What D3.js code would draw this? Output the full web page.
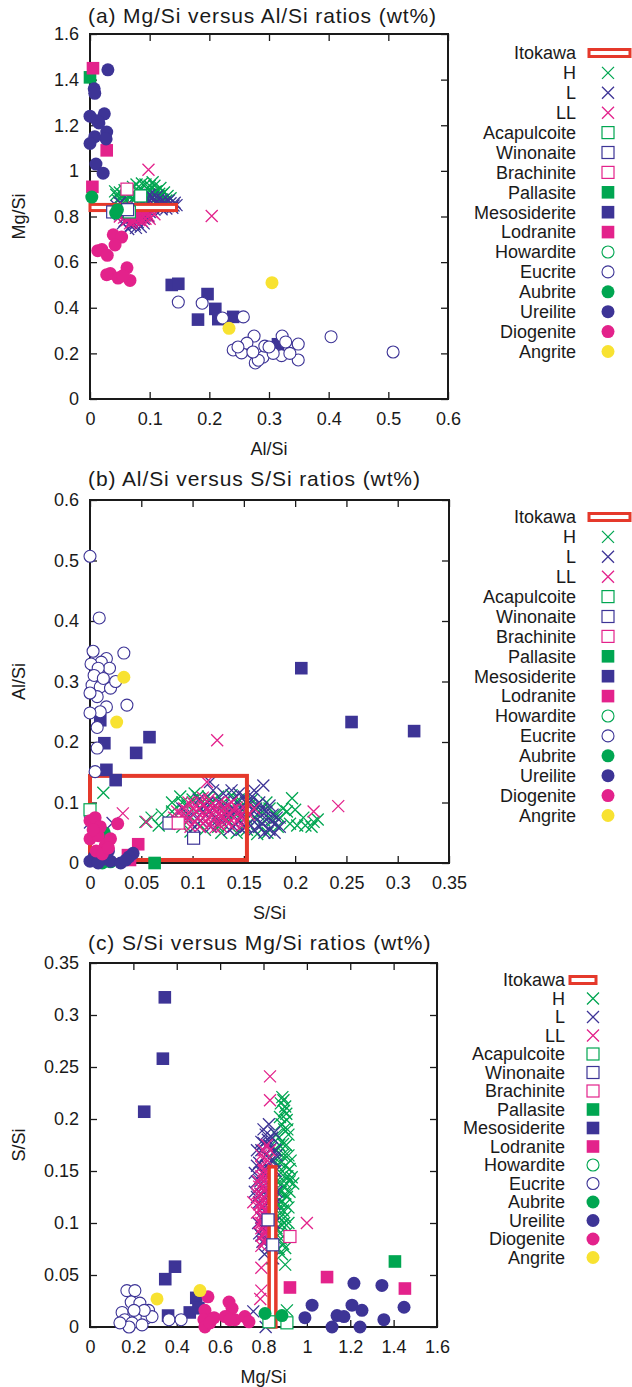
<!DOCTYPE html>
<html>
<head>
<meta charset="utf-8">
<script src="https://cdn.jsdelivr.net/npm/d3@7"></script>
<style>
  body { margin: 0; background: #fff; }
  svg text { font-family: "Liberation Sans", Arial, sans-serif; fill: #1a1a1a; }
</style>
</head>
<body>
<svg id="chart" width="632" height="1387"></svg>
<script>
// ---- categories (legend order) ----
const classes = ["H", "L", "LL", "Acapulcoite", "Winonaite", "Brachinite", "Pallasite",
  "Mesosiderite", "Lodranite", "Howardite", "Eucrite", "Aubrite", "Ureilite", "Diogenite", "Angrite"];
const legendNames = ["Itokawa"].concat(classes);

// ---- tick labels ----
const aXTicks = [0, 0.1, 0.2, 0.3, 0.4, 0.5, 0.6];
const aYTicks = [0, 0.2, 0.4, 0.6, 0.8, 1, 1.2, 1.4, 1.6];
const bXTicks = [0, 0.05, 0.1, 0.15, 0.2, 0.25, 0.3, 0.35];
const bYTicks = [0, 0.1, 0.2, 0.3, 0.4, 0.5, 0.6];
const cXTicks = [0, 0.2, 0.4, 0.6, 0.8, 1, 1.2, 1.4, 1.6];
const cYTicks = [0, 0.05, 0.1, 0.15, 0.2, 0.25, 0.3, 0.35];

// ---- Itokawa boxes [[x0,y0],[x1,y1]] ----
const itokawaA = [[0, 0.826], [0.145, 0.853]];
const itokawaB = [[0, 0.005], [0.153, 0.144]];
const itokawaC = [[0.826, 0], [0.857, 0.154]];

// ---- panel (a): [Al/Si, Mg/Si] ----
const a_H = [[0.087,0.945],[0.105,0.95],[0.1,0.935],[0.084,0.925],[0.112,0.91],[0.116,0.9],[0.042,0.91],[0.044,0.895],
  [0.049,0.88],[0.096,0.9],[0.075,0.885],[0.104,0.88],[0.092,0.87],[0.11,0.865],[0.06,0.87],[0.07,0.9],[0.12,0.875],
  [0.08,0.86],[0.128,0.87],[0.055,0.895],[0.098,0.915],[0.115,0.89],[0.065,0.86],[0.09,0.855],
  [0.05,0.905],[0.058,0.915],[0.066,0.92],[0.072,0.93],[0.078,0.94],[0.093,0.94],[0.108,0.935],[0.118,0.925],
  [0.124,0.905],[0.13,0.89],[0.122,0.86],[0.113,0.85],[0.102,0.86],[0.086,0.875],[0.078,0.895],[0.068,0.885],
  [0.058,0.875],[0.052,0.86],[0.062,0.905],[0.082,0.91],[0.094,0.885],[0.106,0.9],[0.12,0.895],[0.135,0.88],
  [0.047,0.87],[0.073,0.87],[0.099,0.87],[0.11,0.91],[0.088,0.9],[0.062,0.895]];
const a_L = [[0.1,0.87],[0.11,0.86],[0.12,0.85],[0.13,0.845],[0.14,0.848],[0.135,0.858],[0.125,0.862],[0.115,0.875],
  [0.105,0.885],[0.118,0.84],[0.095,0.855],[0.08,0.8],[0.07,0.78],[0.064,0.745],[0.085,0.755],[0.075,0.765],[0.09,0.79],
  [0.06,0.8],[0.05,0.81],[0.055,0.77],[0.1,0.82],[0.108,0.83],[0.088,0.835],[0.07,0.82],[0.045,0.845],[0.05,0.86],
  [0.132,0.87],[0.142,0.86],[0.145,0.85],[0.128,0.835],[0.138,0.838],[0.122,0.872],[0.112,0.888],[0.1,0.895],
  [0.094,0.87],[0.086,0.85],[0.078,0.84],[0.072,0.805],[0.066,0.79],[0.058,0.78],[0.068,0.76],[0.08,0.775],
  [0.092,0.805],[0.098,0.8],[0.106,0.845],[0.115,0.855],[0.12,0.832],[0.06,0.83],[0.052,0.835],[0.044,0.82],
  [0.077,0.75],[0.09,0.77],[0.083,0.82],[0.062,0.815]];
const a_LL = [[0.098,1.005],[0.204,0.802],[0.1,0.79],[0.06,0.82],[0.07,0.81],[0.075,0.8],[0.08,0.82],[0.085,0.81],
  [0.065,0.8],[0.09,0.8],[0.055,0.83],[0.072,0.825],[0.078,0.79],[0.088,0.83],[0.095,0.815],[0.062,0.785],[0.07,0.775],
  [0.082,0.785],[0.058,0.81],[0.068,0.835],[0.092,0.835],[0.05,0.8],
  [0.064,0.79],[0.066,0.83],[0.074,0.84],[0.076,0.815],[0.083,0.8],[0.086,0.795],[0.09,0.815],[0.094,0.825],
  [0.098,0.805],[0.104,0.82],[0.108,0.81],[0.068,0.795],[0.072,0.79],[0.079,0.805],[0.087,0.78],[0.093,0.79],
  [0.057,0.795],[0.053,0.815],[0.061,0.835],[0.08,0.83],[0.085,0.84],[0.075,0.78],[0.067,0.77]];
const a_Acapulcoite = [[0.085,0.89],[0.066,0.82]];
const a_Winonaite = [[0.038,0.82],[0.063,0.83]];
const a_Brachinite = [[0.062,0.92]];
const a_Pallasite = [[0.0,1.41]];
const a_Mesosiderite = [[0.137,0.5],[0.148,0.505],[0.197,0.46],[0.21,0.395],[0.181,0.348],[0.215,0.35],[0.24,0.36],[0.315,0.24]];
const a_Lodranite = [[0.005,1.45],[0.028,1.09],[0.004,0.93]];
const a_Howardite = [];
const a_Eucrite = [[0.148,0.425],[0.188,0.42],[0.222,0.355],[0.257,0.36],[0.275,0.276],[0.322,0.276],[0.328,0.25],
  [0.349,0.241],[0.404,0.273],[0.508,0.206],[0.349,0.171],[0.321,0.19],[0.29,0.184],[0.293,0.232],[0.24,0.215],
  [0.254,0.202],[0.277,0.158],[0.282,0.17],[0.263,0.245],[0.248,0.228],[0.307,0.2],[0.335,0.2],[0.273,0.206],[0.3,0.228]];
const a_Aubrite = [[0.003,0.885],[0.043,0.815],[0.046,0.83]];
const a_Ureilite = [[0.03,1.443],[0.007,1.36],[0.008,1.34],[0.0,1.24],[0.024,1.25],[0.015,1.21],[0.028,1.17],
  [0.008,1.15],[0.0,1.12],[0.027,1.14],[0.01,1.03],[0.022,0.99],[0.012,1.22]];
const a_Diogenite = [[0.039,0.72],[0.053,0.71],[0.02,0.655],[0.013,0.65],[0.029,0.63],[0.042,0.675],[0.034,0.55],
  [0.047,0.53],[0.067,0.52],[0.062,0.575],[0.028,0.545],[0.055,0.54]];
const a_Angrite = [[0.305,0.51],[0.233,0.31]];

// ---- panel (b): [S/Si, Al/Si] ----
const b_H = [[0.013,0.116],[0.197,0.107],[0.2,0.088],[0.218,0.068],[0.21,0.062],[0.202,0.062],[0.216,0.06],[0.222,0.072],
  [0.054,0.068],[0.067,0.062],[0.09,0.1],[0.1,0.105],[0.11,0.095],[0.12,0.08],[0.13,0.1],[0.14,0.09],[0.15,0.085],
  [0.16,0.075],[0.17,0.07],[0.18,0.08],[0.085,0.07],[0.095,0.08],[0.105,0.065],[0.125,0.06],[0.135,0.07],[0.145,0.105],
  [0.155,0.095],[0.165,0.06],[0.175,0.09],[0.115,0.11],[0.077,0.065],
  [0.06,0.075],[0.07,0.08],[0.08,0.085],[0.088,0.11],[0.095,0.095],[0.102,0.115],[0.108,0.09],[0.118,0.1],
  [0.125,0.11],[0.132,0.085],[0.138,0.112],[0.142,0.08],[0.148,0.095],[0.152,0.075],[0.158,0.105],[0.162,0.09],
  [0.168,0.085],[0.172,0.1],[0.178,0.07],[0.185,0.075],[0.188,0.09],[0.183,0.06],[0.173,0.05],[0.163,0.048],
  [0.153,0.055],[0.143,0.05],[0.128,0.05],[0.112,0.055],[0.098,0.052],[0.09,0.06],[0.192,0.085],[0.195,0.065],
  [0.208,0.075],[0.105,0.11],[0.08,0.1]];
const b_L = [[0.0,0.067],[0.022,0.066],[0.117,0.134],[0.169,0.128],[0.16,0.12],[0.15,0.11],[0.14,0.105],[0.13,0.095],
  [0.12,0.09],[0.11,0.085],[0.1,0.08],[0.135,0.075],[0.145,0.07],[0.155,0.065],[0.165,0.06],[0.175,0.055],[0.17,0.075],
  [0.18,0.065],[0.16,0.085],[0.15,0.09],[0.125,0.065],[0.14,0.06],[0.115,0.1],[0.09,0.09],[0.178,0.08],[0.165,0.1],
  [0.12,0.12],[0.13,0.115],[0.138,0.12],[0.145,0.115],[0.152,0.1],[0.158,0.11],[0.162,0.095],[0.168,0.09],
  [0.172,0.085],[0.176,0.07],[0.182,0.075],[0.185,0.06],[0.18,0.05],[0.17,0.05],[0.16,0.055],[0.152,0.06],
  [0.148,0.078],[0.142,0.085],[0.138,0.09],[0.132,0.08],[0.128,0.07],[0.122,0.075],[0.118,0.06],[0.108,0.07],
  [0.102,0.06],[0.095,0.075],[0.155,0.1],[0.163,0.072],[0.168,0.065],[0.175,0.095],[0.148,0.055],[0.136,0.055],
  [0.125,0.1],[0.112,0.095],[0.106,0.105]];
const b_LL = [[0.124,0.203],[0.114,0.134],[0.242,0.094],[0.218,0.085],[0.032,0.082],[0.055,0.068],[0.09,0.08],[0.095,0.07],
  [0.1,0.09],[0.105,0.075],[0.11,0.065],[0.115,0.085],[0.12,0.07],[0.125,0.08],[0.13,0.09],[0.135,0.065],[0.14,0.075],
  [0.145,0.085],[0.15,0.07],[0.108,0.1],[0.118,0.095],[0.128,0.06],[0.098,0.06],[0.138,0.1],[0.155,0.08],[0.16,0.09],
  [0.112,0.078],[0.122,0.088],[0.102,0.068],[0.132,0.072],
  [0.085,0.085],[0.088,0.065],[0.092,0.09],[0.096,0.1],[0.104,0.085],[0.107,0.06],[0.113,0.07],[0.116,0.105],
  [0.119,0.078],[0.124,0.092],[0.127,0.07],[0.131,0.083],[0.134,0.095],[0.137,0.08],[0.141,0.065],[0.143,0.092],
  [0.147,0.078],[0.152,0.088],[0.148,0.062],[0.126,0.1],[0.116,0.062],[0.106,0.09],[0.094,0.078],[0.082,0.075],
  [0.1,0.1],[0.11,0.108],[0.122,0.058],[0.139,0.088],[0.129,0.078],[0.115,0.09]];
const b_Acapulcoite = [[0.0,0.088],[0.004,0.062]];
const b_Winonaite = [[0.077,0.066],[0.101,0.041]];
const b_Brachinite = [[0.086,0.066]];
const b_Pallasite = [[0.063,0.0]];
const b_Mesosiderite = [[0.206,0.322],[0.255,0.233],[0.316,0.218],[0.058,0.208],[0.045,0.182],[0.014,0.198],
  [0.016,0.154],[0.025,0.137],[0.01,0.236]];
const b_Lodranite = [[0.047,0.031],[0.037,0.013],[0.039,0.005]];
const b_Howardite = [];
const b_Eucrite = [[0.0,0.507],[0.009,0.405],[0.003,0.35],[0.033,0.347],[0.016,0.338],[0.011,0.332],[0.001,0.329],
  [0.019,0.322],[0.008,0.322],[0.002,0.294],[0.01,0.291],[0.02,0.289],[0.007,0.275],[0.016,0.258],[0.036,0.261],
  [0.01,0.25],[0.007,0.224],[0.007,0.19],[0.005,0.151],[0.0,0.281],[0.0,0.248],[0.004,0.31],[0.013,0.305],[0.025,0.3]];
const b_Aubrite = [[0.014,0.05],[0.012,0.0],[0.02,0.002]];
const b_Ureilite = [[0.0,0.003],[0.004,0.01],[0.02,0.003],[0.042,0.016],[0.038,0.01],[0.012,0.006],[0.03,0.0],
  [0.008,0.0],[0.018,0.02],[0.035,0.005]];
const b_Diogenite = [[0.0,0.07],[0.005,0.075],[0.01,0.06],[0.0,0.04],[0.008,0.045],[0.015,0.03],[0.02,0.04],
  [0.006,0.02],[0.012,0.015],[0.003,0.055],[0.027,0.065],[0.018,0.025]];
const b_Angrite = [[0.033,0.307],[0.026,0.233]];

// ---- panel (c): [Mg/Si, S/Si] ----
const c_H = [[0.887,0.221],[0.9,0.212],[0.876,0.202],[0.907,0.199],[0.895,0.208],[0.88,0.215],[0.91,0.19],[0.87,0.182],
  [0.89,0.176],[0.86,0.17],[0.9,0.165],[0.875,0.158],[0.92,0.152],[0.93,0.144],[0.937,0.138],[0.88,0.148],[0.89,0.135],
  [0.908,0.125],[0.87,0.13],[0.9,0.118],[0.86,0.112],[0.9,0.106],[0.885,0.098],[0.89,0.08],[0.9,0.076],[0.875,0.09],
  [0.84,0.066],[0.908,0.016],[0.86,0.14],[0.85,0.16],[0.88,0.12],[0.86,0.185],
  [0.892,0.218],[0.905,0.205],[0.883,0.195],[0.915,0.185],[0.895,0.19],[0.872,0.175],[0.905,0.175],[0.915,0.165],
  [0.885,0.165],[0.925,0.16],[0.865,0.155],[0.9,0.155],[0.91,0.145],[0.875,0.14],[0.895,0.14],[0.92,0.13],
  [0.88,0.13],[0.9,0.128],[0.915,0.115],[0.87,0.118],[0.89,0.112],[0.895,0.1],[0.875,0.105],[0.905,0.09],
  [0.88,0.085],[0.86,0.095],[0.885,0.07],[0.9,0.06],[0.87,0.075],[0.915,0.1],[0.92,0.14],[0.86,0.125]];
const c_L = [[0.8,0.177],[0.76,0.148],[0.85,0.187],[0.82,0.18],[0.835,0.172],[0.81,0.165],[0.78,0.158],[0.845,0.16],
  [0.77,0.14],[0.8,0.135],[0.83,0.15],[0.79,0.128],[0.82,0.125],[0.84,0.14],[0.86,0.13],[0.78,0.12],[0.81,0.11],
  [0.85,0.118],[0.79,0.105],[0.83,0.1],[0.8,0.095],[0.84,0.09],[0.815,0.085],[0.79,0.088],[0.845,0.066],[0.753,0.015],
  [0.81,0.0],[0.855,0.15],[0.77,0.17],[0.825,0.195],
  [0.8,0.19],[0.81,0.185],[0.84,0.182],[0.825,0.175],[0.79,0.17],[0.815,0.155],[0.77,0.155],[0.795,0.148],
  [0.82,0.145],[0.835,0.135],[0.785,0.14],[0.805,0.13],[0.77,0.125],[0.825,0.12],[0.8,0.115],[0.84,0.11],
  [0.775,0.1],[0.81,0.1],[0.83,0.092],[0.795,0.082],[0.82,0.078],[0.805,0.07],[0.78,0.09],[0.85,0.1],
  [0.855,0.17],[0.76,0.13],[0.845,0.125],[0.835,0.16],[0.86,0.165],[0.79,0.178]];
const c_LL = [[0.83,0.241],[0.83,0.218],[1.0,0.1],[0.79,0.154],[0.753,0.12],[0.79,0.057],[0.79,0.035],[0.785,0.027],
  [0.8,0.17],[0.81,0.145],[0.78,0.135],[0.8,0.125],[0.82,0.14],[0.79,0.115],[0.81,0.12],[0.83,0.11],[0.8,0.105],
  [0.77,0.11],[0.82,0.1],[0.79,0.095],[0.81,0.09],[0.8,0.082],[0.84,0.12],[0.83,0.13],[0.78,0.1],[0.8,0.14],
  [0.82,0.16],[0.77,0.128],[0.81,0.132],[0.79,0.145],
  [0.805,0.16],[0.815,0.15],[0.825,0.145],[0.795,0.135],[0.785,0.128],[0.805,0.118],[0.815,0.112],[0.825,0.105],
  [0.795,0.11],[0.785,0.118],[0.805,0.098],[0.815,0.095],[0.825,0.088],[0.795,0.088],[0.8,0.09],[0.835,0.095],
  [0.79,0.1],[0.81,0.138],[0.82,0.128],[0.8,0.15],[0.79,0.165],[0.83,0.17],[0.815,0.175],[0.775,0.14],
  [0.78,0.118],[0.82,0.115],[0.8,0.108],[0.81,0.082],[0.79,0.078],[0.835,0.14]];
const c_Acapulcoite = [[0.825,0.005],[0.908,0.004]];
const c_Winonaite = [[0.821,0.103],[0.843,0.079]];
const c_Brachinite = [[0.922,0.087]];
const c_Pallasite = [[1.406,0.063]];
const c_Mesosiderite = [[0.345,0.317],[0.336,0.258],[0.25,0.207],[0.392,0.058],[0.347,0.046],[0.49,0.028],
  [0.46,0.014],[0.5,0.018],[0.36,0.011]];
const c_Lodranite = [[0.922,0.038],[1.093,0.048],[1.452,0.037]];
const c_Howardite = [];
const c_Eucrite = [[0.17,0.035],[0.207,0.035],[0.19,0.024],[0.23,0.023],[0.148,0.014],[0.27,0.016],[0.16,0.007],
  [0.217,0.007],[0.263,0.009],[0.194,0.004],[0.286,0.01],[0.24,0.002],[0.18,0.0],[0.364,0.007],[0.42,0.007],
  [0.138,0.004],[0.25,0.016],[0.203,0.016]];
const c_Aubrite = [[0.807,0.013],[0.885,0.011]];
const c_Ureilite = [[1.024,0.021],[0.991,0.009],[1.116,0.0],[1.139,0.011],[1.171,0.01],[1.217,0.042],[1.208,0.021],
  [1.254,0.016],[1.245,0.0],[1.346,0.04],[1.355,0.007],[1.448,0.019]];
const c_Diogenite = [[0.544,0.029],[0.53,0.016],[0.525,0.007],[0.572,0.009],[0.53,0.0],[0.641,0.024],[0.655,0.018],
  [0.623,0.01],[0.668,0.007],[0.714,0.01],[0.645,0.007],[0.733,0.005],[0.553,0.004]];
const c_Angrite = [[0.309,0.027],[0.507,0.035]];

// ---- styles ----
const GREEN = "#00a651", BLUE = "#3d3496", PINK = "#e3228b", YELLOW = "#f8e231", RED = "#e5392b";
const markerStyle = {
  H: ["x", GREEN], L: ["x", BLUE], LL: ["x", PINK],
  Acapulcoite: ["osq", GREEN], Winonaite: ["osq", BLUE], Brachinite: ["osq", PINK],
  Pallasite: ["sq", GREEN], Mesosiderite: ["sq", BLUE], Lodranite: ["sq", PINK],
  Howardite: ["oc", GREEN], Eucrite: ["oc", BLUE],
  Aubrite: ["c", GREEN], Ureilite: ["c", BLUE], Diogenite: ["c", PINK], Angrite: ["c", YELLOW]
};

const svg = d3.select("#chart");

function drawMarker(g, name, px, py) {
  const [shape, color] = markerStyle[name];
  if (shape === "x") {
    g.append("path").attr("d", `M${px-6},${py-6}L${px+6},${py+6}M${px-6},${py+6}L${px+6},${py-6}`)
      .attr("stroke", color).attr("stroke-width", 1.3).attr("fill", "none");
  } else if (shape === "sq") {
    g.append("rect").attr("x", px-6.3).attr("y", py-6.3).attr("width", 12.6).attr("height", 12.6).attr("fill", color);
  } else if (shape === "osq") {
    g.append("rect").attr("x", px-6).attr("y", py-6).attr("width", 12).attr("height", 12)
      .attr("fill", "#fff").attr("stroke", color).attr("stroke-width", 1.2);
  } else if (shape === "c") {
    g.append("circle").attr("cx", px).attr("cy", py).attr("r", 6.5).attr("fill", color);
  } else if (shape === "oc") {
    g.append("circle").attr("cx", px).attr("cy", py).attr("r", 6).attr("fill", "#fff")
      .attr("stroke", color).attr("stroke-width", 1.1);
  }
}

function drawPanel(cfg) {
  const x = d3.scaleLinear().domain([cfg.xTicks[0], cfg.xTicks[cfg.xTicks.length-1]]).range([cfg.left, cfg.right]);
  const y = d3.scaleLinear().domain([cfg.yTicks[0], cfg.yTicks[cfg.yTicks.length-1]]).range([cfg.bottom, cfg.top]);
  const g = svg.append("g");
  const fmt = d => String(d);

  const axes = [
    [d3.axisBottom(x).tickValues(cfg.xTicks).tickFormat(fmt).tickPadding(13), `translate(0,${cfg.bottom})`],
    [d3.axisTop(x).tickValues(cfg.xTicks).tickFormat(""), `translate(0,${cfg.top})`],
    [d3.axisLeft(y).tickValues(cfg.yTicks).tickFormat(fmt).tickPadding(11), `translate(${cfg.left},0)`],
    [d3.axisRight(y).tickValues(cfg.yTicks).tickFormat(""), `translate(${cfg.right},0)`]
  ];
  axes.forEach(([ax, tr]) => {
    const a = g.append("g").attr("transform", tr).call(ax.tickSizeInner(-7).tickSizeOuter(0));
    a.select(".domain").remove();
    a.selectAll("line").attr("stroke", "#1a1a1a").attr("stroke-width", 1.3);
    a.selectAll("text").attr("font-size", 18).attr("font-family", '"Liberation Sans", Arial, sans-serif').attr("fill", "#1a1a1a");
  });
  g.append("rect").attr("x", cfg.left).attr("y", cfg.top)
    .attr("width", cfg.right - cfg.left).attr("height", cfg.bottom - cfg.top)
    .attr("fill", "none").attr("stroke", "#1a1a1a").attr("stroke-width", 2);

  // title + axis labels
  g.append("text").attr("x", 88).attr("y", cfg.titleY).attr("font-size", 21)
    .attr("letter-spacing", "0.9px").text(cfg.title);
  g.append("text").attr("x", (cfg.left + cfg.right) / 2).attr("y", cfg.bottom + 56)
    .attr("text-anchor", "middle").attr("font-size", 18).text(cfg.xLabel);
  g.append("text").attr("transform", `translate(25,${(cfg.top + cfg.bottom) / 2}) rotate(-90)`)
    .attr("text-anchor", "middle").attr("font-size", 18).text(cfg.yLabel);

  // points
  const pts = g.append("g");
  const drawClass = name => (cfg.data[name] || []).forEach(d => drawMarker(pts, name, x(d[0]), y(d[1])));
  ["H", "L", "LL"].forEach(drawClass);
  const box = cfg.itokawa;
  pts.append("rect").attr("x", x(box[0][0])).attr("y", y(box[1][1]))
    .attr("width", x(box[1][0]) - x(box[0][0])).attr("height", y(box[0][1]) - y(box[1][1]))
    .attr("fill", cfg.boxFill).attr("stroke", RED).attr("stroke-width", cfg.boxStroke);
  classes.slice(3).forEach(drawClass);

  // legend
  const lg = g.append("g");
  legendNames.forEach((name, i) => {
    const ly = cfg.legTop + i * cfg.legStep;
    lg.append("text").attr("x", cfg.legRight).attr("y", ly).attr("dy", "0.35em")
      .attr("text-anchor", "end").attr("font-size", 18).text(name);
    if (name === "Itokawa") {
      lg.append("rect").attr("x", cfg.legBox[0]).attr("y", ly - 3.5).attr("width", cfg.legBox[1] - cfg.legBox[0])
        .attr("height", 7).attr("fill", "#fff").attr("stroke", RED).attr("stroke-width", 3);
    } else {
      drawMarker(lg, name, cfg.legX, ly);
    }
  });
}

function tableFor(arrays) {
  const t = {};
  classes.forEach((c, i) => { t[c] = arrays[i]; });
  return t;
}

const dataA = tableFor([a_H, a_L, a_LL, a_Acapulcoite, a_Winonaite, a_Brachinite, a_Pallasite, a_Mesosiderite,
  a_Lodranite, a_Howardite, a_Eucrite, a_Aubrite, a_Ureilite, a_Diogenite, a_Angrite]);
const dataB = tableFor([b_H, b_L, b_LL, b_Acapulcoite, b_Winonaite, b_Brachinite, b_Pallasite, b_Mesosiderite,
  b_Lodranite, b_Howardite, b_Eucrite, b_Aubrite, b_Ureilite, b_Diogenite, b_Angrite]);
const dataC = tableFor([c_H, c_L, c_LL, c_Acapulcoite, c_Winonaite, c_Brachinite, c_Pallasite, c_Mesosiderite,
  c_Lodranite, c_Howardite, c_Eucrite, c_Aubrite, c_Ureilite, c_Diogenite, c_Angrite]);

drawPanel({
  title: "(a) Mg/Si versus Al/Si ratios (wt%)", titleY: 23, xLabel: "Al/Si", yLabel: "Mg/Si",
  left: 90, right: 448, top: 34, bottom: 399, xTicks: aXTicks, yTicks: aYTicks, data: dataA,
  itokawa: itokawaA, boxFill: "#fff", boxStroke: 3,
  legTop: 53, legStep: 19.9, legRight: 576, legX: 608, legBox: [589, 630]
});
drawPanel({
  title: "(b) Al/Si versus S/Si ratios (wt%)", titleY: 486, xLabel: "S/Si", yLabel: "Al/Si",
  left: 90, right: 449, top: 500, bottom: 863, xTicks: bXTicks, yTicks: bYTicks, data: dataB,
  itokawa: itokawaB, boxFill: "none", boxStroke: 4,
  legTop: 517, legStep: 19.9, legRight: 576, legX: 608, legBox: [589, 630]
});
drawPanel({
  title: "(c) S/Si versus Mg/Si ratios (wt%)", titleY: 950, xLabel: "Mg/Si", yLabel: "S/Si",
  left: 90, right: 437, top: 963, bottom: 1327, xTicks: cXTicks, yTicks: cYTicks, data: dataC,
  itokawa: itokawaC, boxFill: "#fff", boxStroke: 3.5,
  legTop: 980, legStep: 18.5, legRight: 565, legX: 593, legBox: [570, 596]
});
</script>
</body>
</html>
